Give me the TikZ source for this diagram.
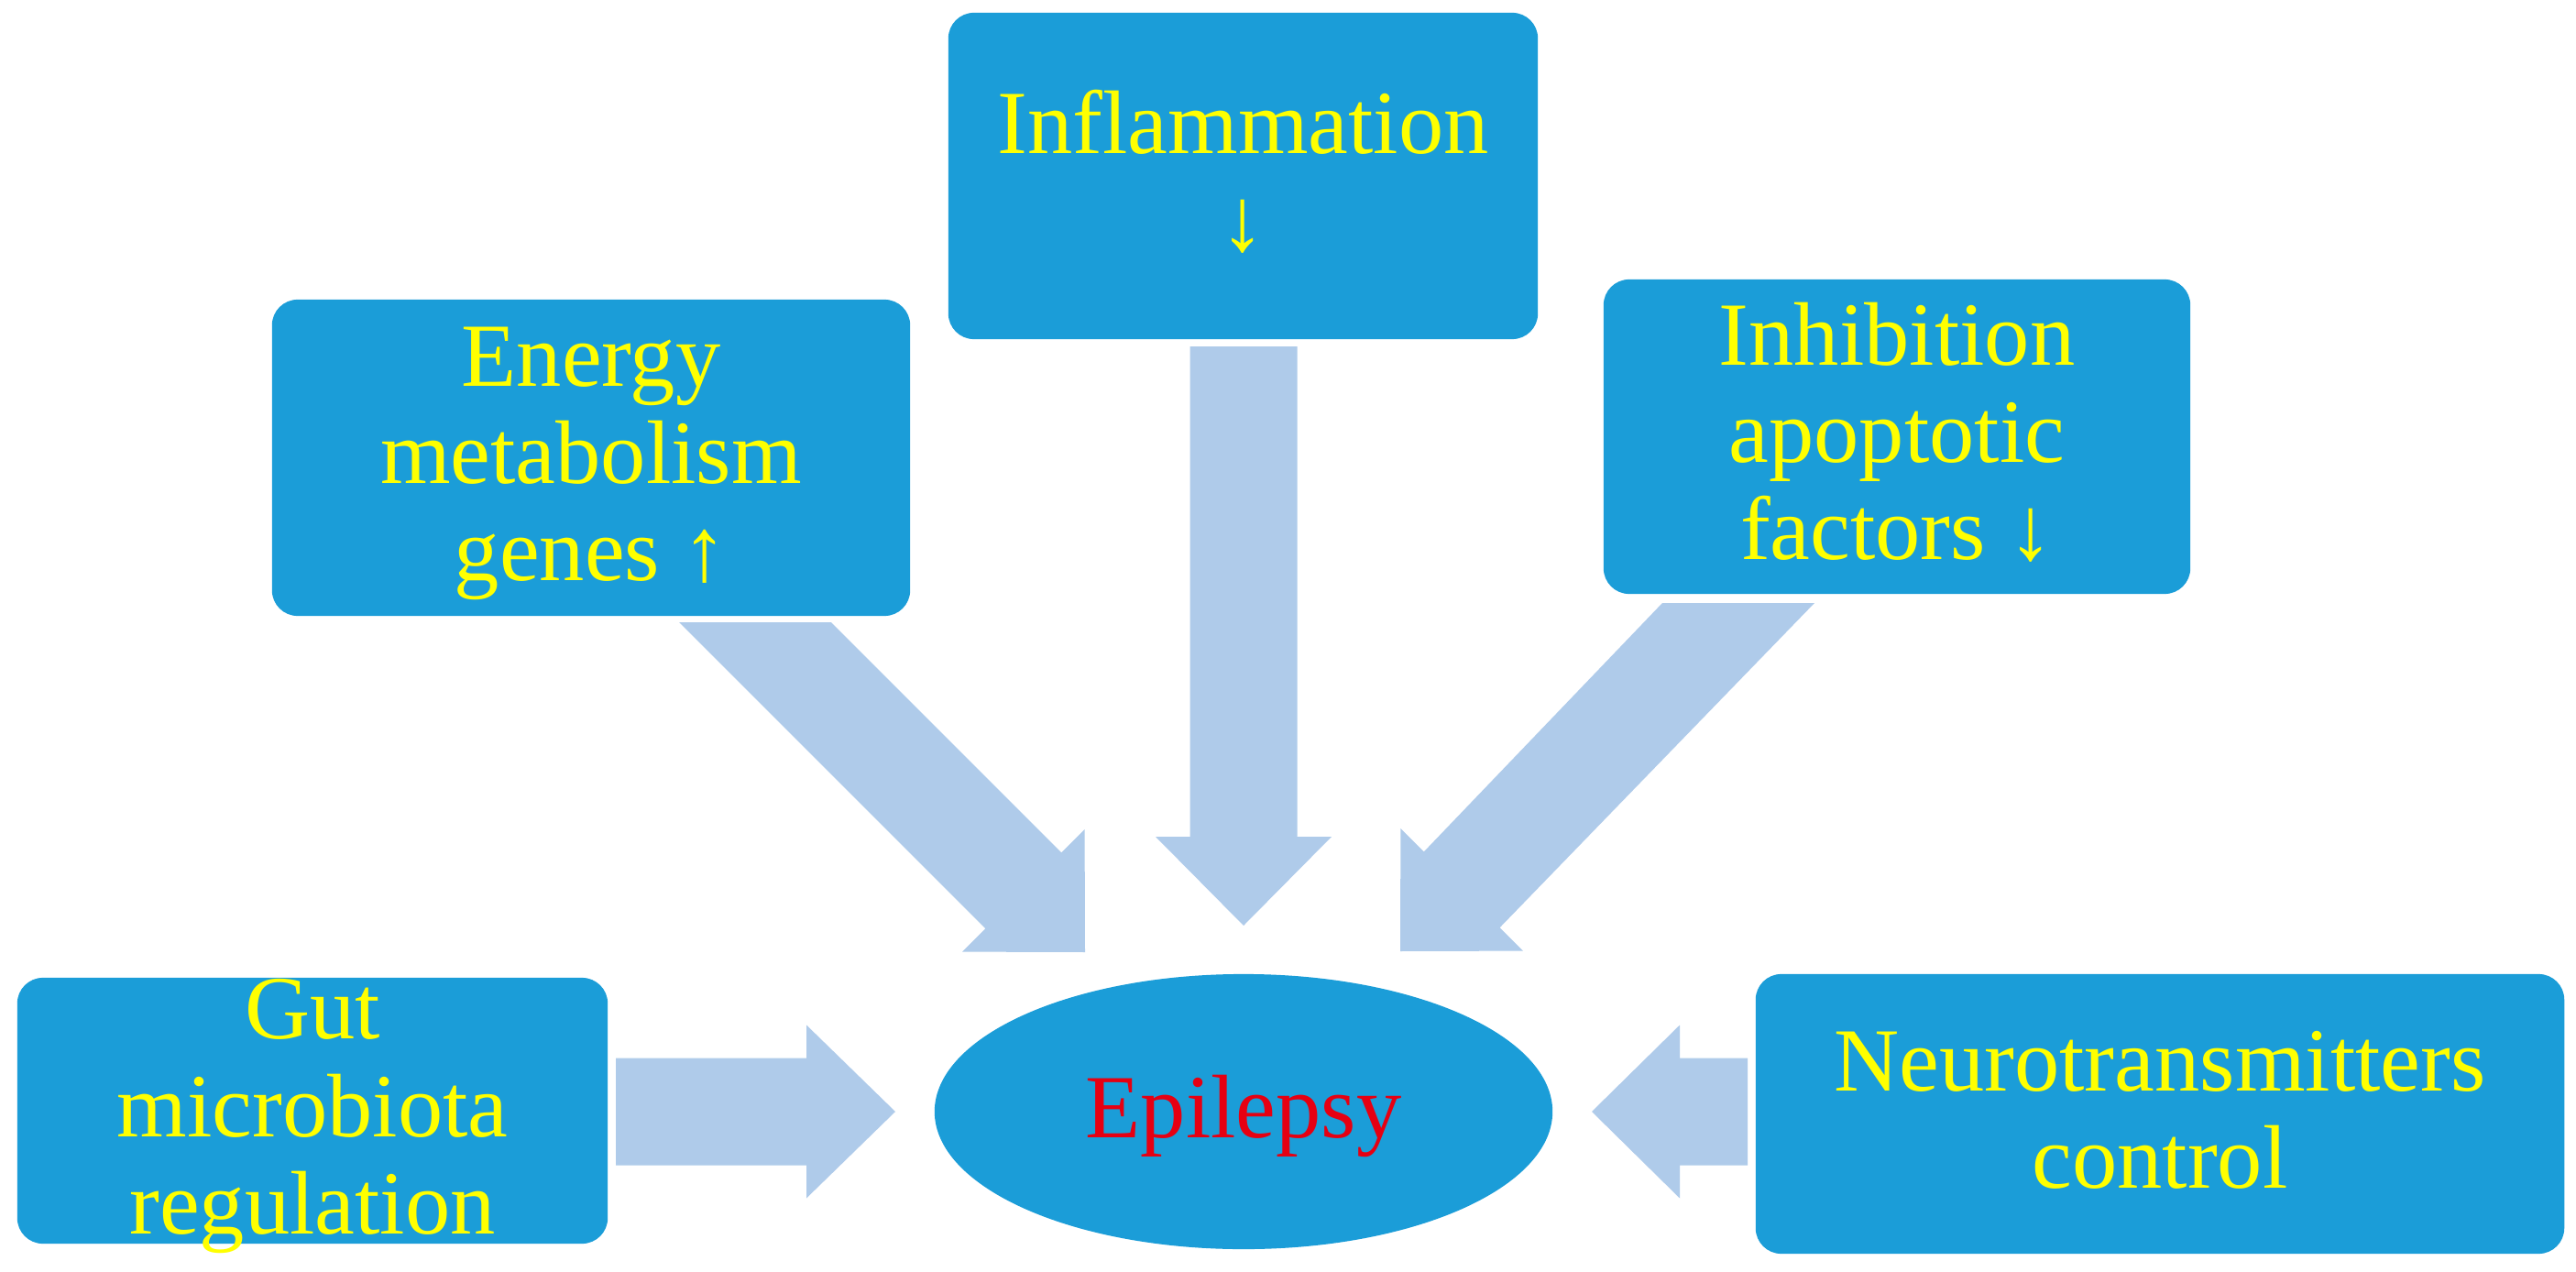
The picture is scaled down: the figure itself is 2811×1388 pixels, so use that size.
\documentclass[tikz,border=0pt]{standalone}
\usepackage{fontspec}
\setmainfont{Liberation Serif}
\usetikzlibrary{shapes.geometric}
\definecolor{boxblue}{RGB}{27,157,216}
\definecolor{arrowblue}{RGB}{175,203,234}
\definecolor{txtyellow}{RGB}{255,255,0}
\definecolor{epired}{RGB}{230,0,18}
% line strut: height 0.807em, depth 0.236em (PowerPoint-like line box)
\newcommand{\ls}{\rule[-0.236em]{0pt}{1.043em}}
\begin{document}
\begin{tikzpicture}[x=0.01cm,y=-0.01cm,
  box/.style={draw=none,fill=boxblue,rounded corners=0.28cm,inner sep=0pt,
    align=center,text=txtyellow,font=\fontsize{28}{29.2}\selectfont},
  boxtext/.style={inner sep=0pt,align=center,text=txtyellow,
    font=\fontsize{28}{29.2}\selectfont},
  hub/.style={ellipse,draw=none,fill=boxblue,inner sep=0pt,
    text=epired,font=\fontsize{28}{29.2}\selectfont},
  blockarrow/.style={fill=arrowblue,draw=none}]
\fill[white] (0,0) rectangle (2811,1388);
\useasboundingbox (0,0) rectangle (2811,1388);

% boxes
\node[box,minimum width=6.43cm,minimum height=3.56cm] (infl) at (1356.5,192)
  {\ls Inflammation\\\ls ↓};
\node[box,minimum width=6.96cm,minimum height=3.45cm] (energy) at (645,499.5)
  {\ls Energy\\\ls metabolism\\\ls genes ↑};
\node[box,minimum width=6.40cm,minimum height=3.43cm] (inhib) at (2070,476.5)
  {\ls Inhibition\\\ls apoptotic\\\ls factors ↓};
\node[box,minimum width=6.44cm,minimum height=2.90cm] (gut) at (341,1212) {};
\node[boxtext] (gutlabel) at (gut.center)
  {\ls Gut\\\ls microbiota\\\ls regulation};
\node[box,minimum width=8.82cm,minimum height=3.05cm] (neuro) at (2357,1215.5)
  {\ls Neurotransmitters\\\ls control};
\node[hub,minimum width=6.74cm,minimum height=3.00cm] (epi) at (1357,1213)
  {\ls Epilepsy};

% arrow tips
\coordinate (tipG) at (977,1213);
\coordinate (tipN) at (1737,1213);
\coordinate (tipI) at (1357,1010);
\coordinate (tipE) at (1184,1039);
\coordinate (tipH) at (1528,1038);

% gut -> epilepsy
\fill[blockarrow] (672,1154.5) -- (880,1154.5) -- (880,1118.5) -- (tipG)
  -- (880,1307.5) -- (880,1271.5) -- (672,1271.5) -- cycle;
% neurotransmitters -> epilepsy
\fill[blockarrow] (1907,1154.5) -- (1833,1154.5) -- (1833,1118.5) -- (tipN)
  -- (1833,1307.5) -- (1833,1271.5) -- (1907,1271.5) -- cycle;
% inflammation -> epilepsy
\fill[blockarrow] (1298.5,378) -- (1415.5,378) -- (1415.5,913) -- (1453,913) -- (tipI)
  -- (1261,913) -- (1298.5,913) -- cycle;
% energy -> epilepsy
\fill[blockarrow] (741.2,679) -- (906.8,679) -- (1158.2,930.4) -- (1183.6,905) -- (tipE)
  -- (1050,1038.6) -- (1075.4,1013.2) -- cycle;
% inhibition -> epilepsy
\fill[blockarrow] (1980,658) -- (1814,658) -- (1553.8,929.4) -- (1528.4,904) -- (tipH)
  -- (1662,1037.6) -- (1636.6,1012.2) -- cycle;
\end{tikzpicture}
\end{document}
